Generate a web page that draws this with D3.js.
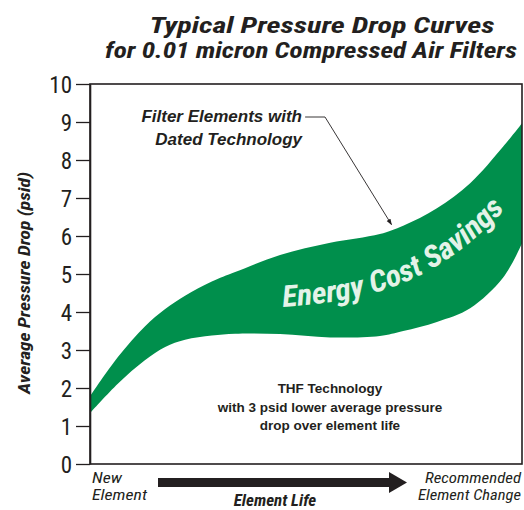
<!DOCTYPE html>
<html><head><meta charset="utf-8">
<script src="https://cdn.jsdelivr.net/npm/d3@7"></script>
<style>
html,body{margin:0;padding:0;background:#fff;}
svg{display:block;}
</style></head>
<body>
<svg id="chart" width="524" height="510"></svg>
<script>
// ---- data ----
const lifePoints = [0, 6.5, 12.7, 17.4, 22, 28.2, 33.6, 44, 55.6, 67.1, 72.5, 80.3, 88, 95.6, 100];
const datedTech  = [1.78, 2.82, 3.62, 4.08, 4.43, 4.8, 5.05, 5.5, 5.82, 6.05, 6.27, 6.73, 7.39, 8.35, 8.97];
const thfTech    = [1.34, 2.12, 2.73, 3.08, 3.27, 3.38, 3.43, 3.42, 3.33, 3.37, 3.5, 3.74, 4.1, 4.9, 5.8];
const yTicks = [0,1,2,3,4,5,6,7,8,9,10];
const titleLines = ["Typical Pressure Drop Curves", "for 0.01 micron Compressed Air Filters"];

const svg = d3.select("#chart");
const condensed = "'Liberation Sans Narrow','Roboto Condensed','DejaVu Sans Condensed','Arial Narrow',sans-serif";
const arial = "'Liberation Sans',Arial,Helvetica,sans-serif";
const green = "#008f4c";
const ink = "#231f20";

const x = d3.scaleLinear().domain([0,100]).range([90,522]);
const y = d3.scaleLinear().domain([0,10]).range([464,84]);

const band = lifePoints.map((t,i)=>({t, hi:datedTech[i], lo:thfTech[i]}));

// band
svg.append("path")
  .datum(band)
  .attr("fill", green)
  .attr("d", d3.area().x(d=>x(d.t)).y0(d=>y(d.lo)).y1(d=>y(d.hi)).curve(d3.curveCatmullRom.alpha(0.5)));

// frame
svg.append("rect").attr("x",x(0)).attr("y",y(10)).attr("width",x(100)-x(0)).attr("height",y(0)-y(10))
  .attr("fill","none").attr("stroke",ink).attr("stroke-width",1.6);

// y axis
const ax = svg.append("g").attr("transform",`translate(${x(0)},0)`)
  .call(d3.axisLeft(y).tickValues(yTicks).tickSize(14).tickSizeOuter(0).tickPadding(4).tickFormat(d3.format("d")));
ax.select(".domain").attr("stroke",ink).attr("stroke-width",1.6);
ax.selectAll(".tick line").attr("stroke",ink).attr("stroke-width",1.3);
ax.selectAll(".tick text").attr("fill",ink).style("font-family",condensed).style("font-size","23px").attr("dy","0.36em");

// title
svg.append("text").attr("x",322).attr("y",33).attr("text-anchor","middle")
  .attr("textLength",345).attr("lengthAdjust","spacingAndGlyphs")
  .style("font-family",condensed).style("font-weight","bold").style("font-style","italic").style("font-size","22px")
  .attr("fill",ink).text(titleLines[0]);
svg.append("text").attr("x",311).attr("y",58).attr("text-anchor","middle")
  .attr("textLength",412).attr("lengthAdjust","spacingAndGlyphs")
  .style("font-family",condensed).style("font-weight","bold").style("font-style","italic").style("font-size","22px")
  .attr("fill",ink).text(titleLines[1]);

// y axis title
svg.append("text").attr("transform","translate(30,283) rotate(-90)").attr("text-anchor","middle")
  .attr("textLength",222).attr("lengthAdjust","spacingAndGlyphs")
  .style("font-family",condensed).style("font-weight","bold").style("font-style","italic").style("font-size","16px")
  .attr("fill",ink).text("Average Pressure Drop (psid)");

// x-axis end labels
const endLab = (tx, anchor, lines, lens) => {
  lines.forEach((l,i)=>svg.append("text").attr("x",tx).attr("y",483+i*17).attr("text-anchor",anchor)
    .attr("textLength",lens[i]).attr("lengthAdjust","spacingAndGlyphs")
    .style("font-family",condensed).style("font-style","italic").style("font-size","15px").attr("fill",ink).text(l));
};
endLab(92,"start",["New","Element"],[30,55]);
endLab(521,"end",["Recommended","Element Change"],[96,103]);

// element life arrow
svg.append("rect").attr("x",158).attr("y",478).attr("width",234).attr("height",9).attr("fill",ink);
svg.append("path").attr("d","M389,472 L407,482.5 L389,493 Z").attr("fill",ink);
svg.append("text").attr("x",275).attr("y",506).attr("text-anchor","middle")
  .style("font-family",condensed).style("font-weight","bold").style("font-style","italic").style("font-size","17px")
  .attr("fill",ink).text("Element Life");

// dated technology annotation
svg.append("defs").append("marker").attr("id","ah").attr("viewBox","0 0 10 10").attr("refX",9).attr("refY",5)
  .attr("markerWidth",7).attr("markerHeight",7).attr("orient","auto")
  .append("path").attr("d","M0,1.5 L10,5 L0,8.5 Z").attr("fill",ink);
svg.append("text").attr("x",302).attr("y",122).attr("text-anchor","end")
  .style("font-family",arial).style("font-weight","bold").style("font-style","italic").style("font-size","17px")
  .attr("fill",ink).text("Filter Elements with");
svg.append("text").attr("x",302).attr("y",145).attr("text-anchor","end")
  .style("font-family",arial).style("font-weight","bold").style("font-style","italic").style("font-size","17px")
  .attr("fill",ink).text("Dated Technology");
svg.append("polyline").attr("points",`${x(49.8)},${117} ${x(54.4)},${117} ${x(69.8)},${y(6.3)}`)
  .attr("fill","none").attr("stroke",ink).attr("stroke-width",0.9).attr("marker-end","url(#ah)");

// Energy Cost Savings on path
svg.select("defs").append("path").attr("id","ecs").attr("d","M283,307 C360,301 432,290 508,206");
svg.append("text").style("font-family",condensed).style("font-weight","bold").style("font-style","italic").style("font-size","30px")
  .attr("fill","#e4f3e8")
  .append("textPath").attr("href","#ecs").attr("textLength",250).attr("lengthAdjust","spacingAndGlyphs")
  .text("Energy Cost Savings");

// THF annotation
["THF Technology","with 3 psid lower average pressure","drop over element life"].forEach((l,i)=>{
  svg.append("text").attr("x",330).attr("y",393+i*18.5).attr("text-anchor","middle")
    .style("font-family",arial).style("font-weight","bold").style("font-size","13.5px").attr("fill","#231f20").text(l);
});
</script>
</body></html>
